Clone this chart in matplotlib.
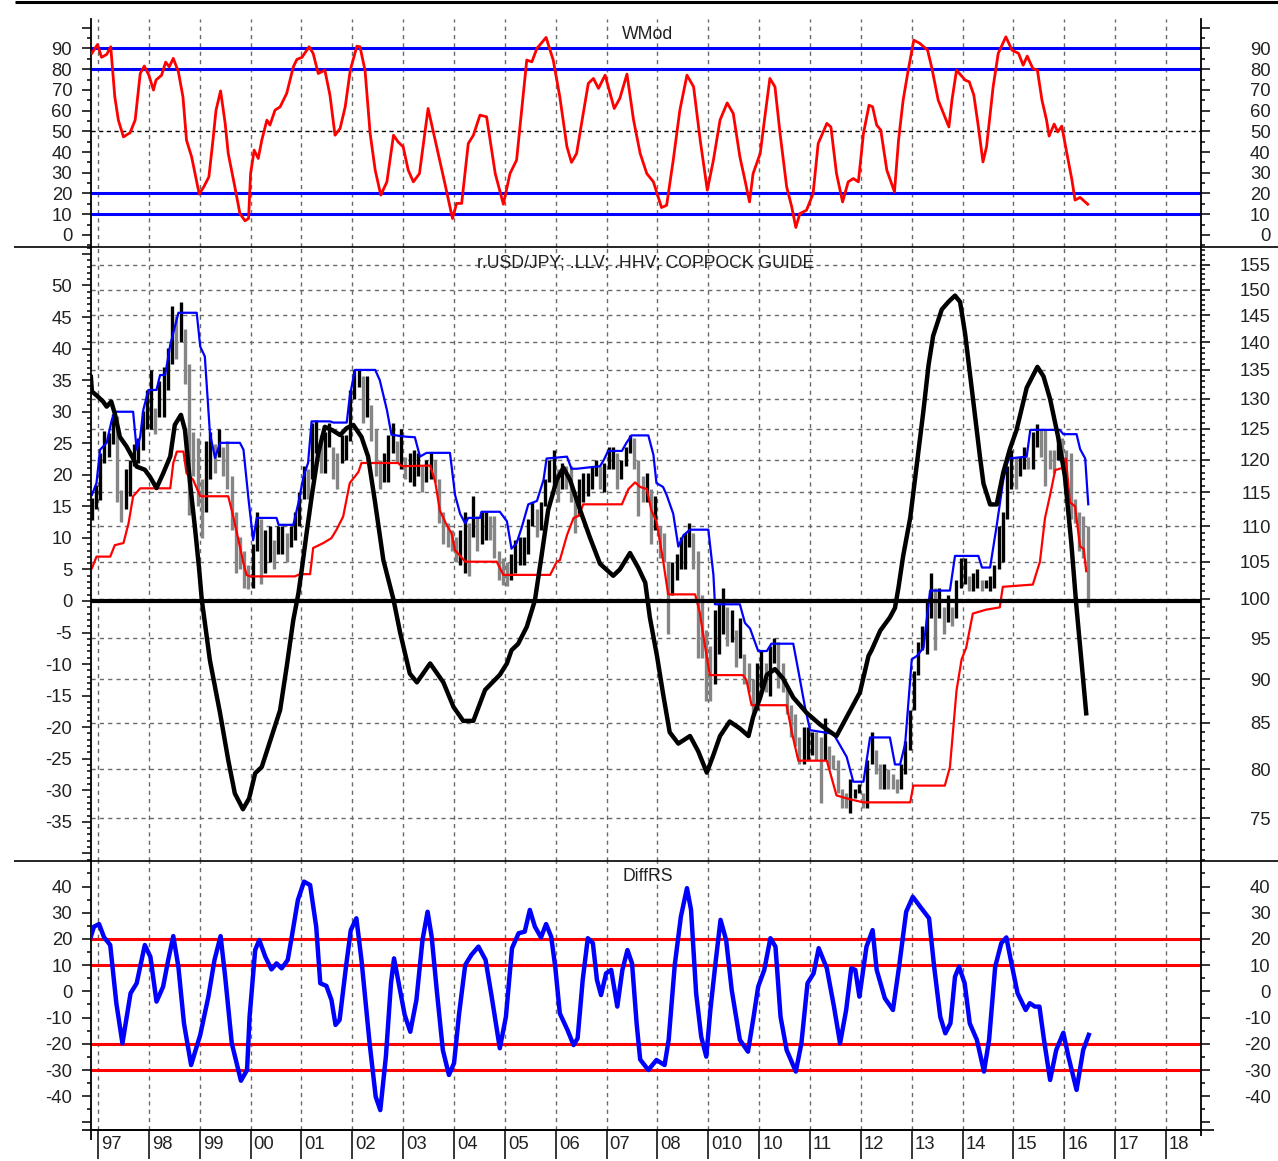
import numpy as np
import pandas as pd
import matplotlib
matplotlib.use("Agg")
import matplotlib.pyplot as plt
from matplotlib.lines import Line2D
from matplotlib.ticker import MultipleLocator, FixedLocator, FuncFormatter, NullFormatter

# ---------------------------------------------------------------- data
# WMod oscillator (top panel): turning points, decimal years / value
wm_t = [1996.88, 1996.99, 1997.07, 1997.17, 1997.25, 1997.33, 1997.40, 1997.50, 1997.63, 1997.73,
        1997.83, 1997.91, 1998.00, 1998.09, 1998.14, 1998.25, 1998.33, 1998.40, 1998.48, 1998.58,
        1998.67, 1998.74, 1998.84, 1998.99, 1999.08, 1999.18, 1999.26, 1999.32, 1999.41, 1999.50,
        1999.56, 1999.69, 1999.79, 1999.89, 1999.96, 2000.00, 2000.07, 2000.15, 2000.22, 2000.32,
        2000.38, 2000.48, 2000.58, 2000.71, 2000.84, 2000.91, 2001.01, 2001.15, 2001.23, 2001.33,
        2001.46, 2001.56, 2001.66, 2001.76, 2001.86, 2001.96, 2002.09, 2002.15, 2002.25, 2002.35,
        2002.45, 2002.56, 2002.68, 2002.81, 2002.90, 2003.00, 2003.10, 2003.20, 2003.32, 2003.49,
        2003.63, 2003.82, 2003.97, 2004.05, 2004.15, 2004.28, 2004.38, 2004.51, 2004.64, 2004.81,
        2004.97, 2005.10, 2005.23, 2005.33, 2005.43, 2005.53, 2005.63, 2005.81, 2005.95, 2006.08,
        2006.22, 2006.31, 2006.41, 2006.54, 2006.64, 2006.74, 2006.84, 2006.97, 2007.15, 2007.26,
        2007.40, 2007.53, 2007.66, 2007.79, 2007.92, 2008.08, 2008.18, 2008.31, 2008.44, 2008.58,
        2008.71, 2008.84, 2008.98, 2009.10, 2009.23, 2009.37, 2009.49, 2009.62, 2009.72, 2009.81,
        2009.88, 2010.02, 2010.12, 2010.21, 2010.31, 2010.41, 2010.54, 2010.64, 2010.72, 2010.80,
        2010.93, 2011.06, 2011.16, 2011.33, 2011.41, 2011.52, 2011.64, 2011.75, 2011.85, 2011.95,
        2012.05, 2012.16, 2012.23, 2012.31, 2012.39, 2012.51, 2012.66, 2012.74, 2012.83, 2012.93,
        2013.04, 2013.16, 2013.31, 2013.39, 2013.52, 2013.73, 2013.79, 2013.88, 2014.05, 2014.13,
        2014.22, 2014.31, 2014.40, 2014.47, 2014.60, 2014.70, 2014.85, 2014.97, 2015.10, 2015.19,
        2015.27, 2015.38, 2015.47, 2015.56, 2015.65, 2015.70, 2015.80, 2015.87, 2015.95, 2016.05,
        2016.15, 2016.21, 2016.31, 2016.46]
wm_v = [87.7, 91.9, 85.7, 87.1, 90.8, 66.6, 55.4, 47.3, 49.3, 55.4,
        77.9, 81.5, 77.1, 69.9, 74.7, 77.1, 83.4, 81.1, 85.2, 78.7,
        66.6, 45.7, 37.7, 19.7, 23.2, 28.0, 45.7, 60.2, 69.5, 53.8,
        39.3, 23.2, 10.3, 6.8, 7.9, 29.6, 40.9, 36.9, 45.7, 55.4,
        53.0, 60.2, 61.8, 68.3, 81.1, 84.7, 85.7, 90.8, 87.6, 77.9,
        79.5, 67.5, 48.1, 51.4, 61.8, 79.5, 91.1, 90.8, 79.5, 49.0,
        31.2, 19.2, 25.6, 48.1, 44.9, 42.5, 31.2, 25.6, 29.6, 61.0,
        45.7, 24.8, 7.9, 15.2, 15.2, 44.1, 48.1, 57.8, 57.0, 29.6,
        14.8, 29.6, 36.1, 60.2, 84.4, 83.5, 90.0, 95.3, 84.4, 66.6,
        42.5, 35.0, 39.3, 58.6, 73.1, 75.5, 70.7, 77.1, 61.0, 65.9,
        77.6, 55.4, 39.3, 29.6, 25.6, 13.2, 14.3, 36.1, 60.2, 77.1,
        71.5, 45.7, 21.6, 36.1, 55.4, 63.7, 58.6, 37.7, 26.4, 15.9,
        29.6, 39.3, 58.6, 75.5, 71.5, 49.0, 23.2, 13.5, 3.6, 10.3,
        11.9, 20.0, 44.1, 53.8, 52.1, 29.6, 15.9, 25.6, 27.2, 25.6,
        49.0, 62.6, 61.8, 53.0, 50.6, 31.2, 20.8, 45.7, 65.0, 79.5,
        94.0, 92.4, 89.2, 81.1, 65.0, 52.1, 65.0, 79.5, 74.7, 73.9,
        67.5, 52.1, 35.2, 42.5, 71.5, 87.6, 95.6, 89.2, 87.6, 81.9,
        86.3, 80.3, 79.5, 65.0, 55.4, 47.7, 53.5, 49.7, 52.5, 39.3,
        26.4, 16.8, 18.1, 14.8]
wm_levels = [90, 80, 20, 10]

# USD/JPY monthly bars, Nov 1996 .. Jun 2016
px_low = [110.9, 112.5,
          113.9, 119.5, 120.5, 122.5, 113.5, 110.6, 112.5, 114.5, 119.0, 119.5, 121.5, 125.0,
          125.0, 124.2, 127.0, 127.0, 131.5, 136.0, 137.0, 140.0, 132.5, 111.6, 117.5, 113.0,
          108.3, 112.0, 117.0, 118.0, 120.5, 117.5, 115.5, 109.5, 103.5, 104.0, 101.5, 101.3,
          101.5, 106.5, 102.0, 103.5, 105.0, 104.0, 106.0, 106.0, 105.0, 107.0, 108.0, 110.0,
          114.0, 114.0, 117.0, 121.0, 118.0, 118.0, 122.0, 117.0, 115.5, 119.5, 120.0, 123.0,
          130.0, 132.0, 126.0, 127.0, 123.0, 117.5, 115.5, 116.5, 116.5, 121.0, 119.5, 118.5,
          117.0, 116.5, 116.0, 117.5, 115.0, 116.5, 117.0, 116.5, 110.5, 107.5, 107.0, 106.5,
          105.0, 104.5, 103.5, 103.0, 108.5, 106.5, 107.5, 108.0, 108.0, 105.5, 102.5, 101.8,
          101.7, 102.5, 103.5, 104.5, 104.5, 106.0, 110.0, 108.5, 109.5, 113.0, 116.5, 115.5,
          113.5, 115.5, 115.5, 113.5, 109.0, 111.5, 113.5, 114.5, 115.5, 117.5, 115.5, 115.0,
          118.5, 118.5, 115.5, 117.0, 119.0, 121.0, 118.5, 111.5, 113.5, 113.5, 107.5, 109.5,
          105.5, 105.0, 95.5, 100.5, 102.5, 104.0, 104.0, 107.0, 104.0, 92.5, 92.5, 87.5,
          87.5, 89.5, 93.0, 95.5, 94.0, 94.5, 91.5, 92.5, 89.5, 88.5, 86.0, 86.5,
          89.0, 88.5, 88.0, 92.0, 89.0, 88.5, 86.0, 83.5, 82.5, 80.5, 80.5, 81.0,
          81.5, 81.0, 76.5, 81.0, 80.0, 80.0, 77.5, 76.0, 76.0, 75.5, 77.0, 77.5,
          76.0, 76.0, 80.5, 79.5, 78.0, 78.0, 78.0, 78.0, 77.5, 78.0, 79.5, 82.0,
          86.5, 90.5, 93.5, 93.0, 97.5, 93.5, 97.5, 95.5, 97.0, 96.5, 97.5, 101.5,
          102.0, 101.0, 101.0, 101.5, 101.0, 101.5, 101.0, 101.5, 104.0, 105.0, 111.0, 115.5,
          115.5, 117.5, 118.5, 118.5, 118.5, 122.0, 120.5, 116.0, 118.5, 118.0, 120.0, 120.0,
          115.5, 111.0, 110.5, 106.5, 105.5, 99.0]
px_high = [114.1, 116.1,
           121.1, 124.6, 124.3, 127.4, 127.1, 115.4, 118.5, 120.0, 122.5, 123.5, 128.0, 131.5,
           135.0, 128.5, 133.0, 135.5, 139.0, 146.8, 144.8, 147.6, 142.5, 136.0, 124.5, 123.5,
           117.0, 123.0, 124.5, 122.5, 125.0, 122.0, 123.0, 117.5, 112.0, 108.5, 106.5, 104.5,
           107.5, 112.0, 111.0, 109.5, 110.0, 108.0, 110.0, 110.0, 109.0, 110.0, 112.0, 115.0,
           119.0, 118.5, 126.0, 126.5, 124.0, 124.5, 126.0, 122.0, 121.0, 124.0, 124.0, 131.5,
           135.0, 135.0, 134.0, 134.0, 129.0, 125.0, 120.0, 121.0, 124.0, 126.0, 123.0, 125.0,
           120.5, 121.0, 121.5, 121.0, 119.0, 120.0, 121.0, 120.0, 117.0, 112.0, 110.5, 109.5,
           108.5, 109.5, 112.0, 110.5, 114.5, 111.5, 112.0, 112.0, 111.5, 111.5, 106.5, 105.5,
           105.0, 106.0, 108.0, 108.5, 108.5, 111.0, 113.5, 112.5, 113.5, 117.0, 120.0, 121.5,
           118.5, 119.5, 119.0, 119.0, 114.5, 117.0, 118.0, 118.0, 119.0, 119.9, 119.0, 119.5,
           122.0, 122.0, 121.0, 120.0, 122.0, 124.0, 123.5, 120.0, 117.5, 118.0, 115.5, 114.5,
           110.0, 109.0, 105.0, 105.0, 106.0, 108.5, 109.0, 110.5, 109.0, 106.5, 100.5, 96.0,
           94.0, 98.5, 99.5, 101.5, 99.0, 98.5, 96.0, 97.5, 93.0, 92.0, 90.0, 92.0,
           93.5, 92.0, 94.0, 95.0, 94.5, 92.0, 89.0, 87.0, 86.0, 83.5, 84.5, 84.5,
           84.0, 84.0, 83.5, 85.5, 82.5, 81.5, 81.0, 78.0, 77.5, 79.0, 78.0, 78.5,
           77.5, 81.0, 84.0, 82.0, 80.5, 80.5, 80.0, 79.5, 79.0, 80.5, 83.0, 86.5,
           91.0, 94.5, 96.5, 100.0, 103.5, 101.5, 101.5, 99.0, 100.5, 99.0, 102.5, 105.5,
           105.5, 103.0, 103.5, 104.0, 102.5, 102.5, 103.0, 104.5, 110.0, 112.0, 119.0, 121.5,
           120.5, 120.5, 122.0, 120.5, 124.5, 125.8, 125.0, 125.0, 121.5, 121.5, 123.8, 123.5,
           121.5, 121.0, 114.0, 112.0, 111.5, 110.0]

# highest-high (blue) and lowest-low (red) envelopes: vertices
hhv_t = [1996.88, 1996.97, 1997.04, 1997.10, 1997.17, 1997.27, 1997.33, 1997.69, 1997.76, 1997.83,
         1997.89, 1997.99, 1998.15, 1998.22, 1998.32, 1998.42, 1998.48, 1998.58, 1998.94, 1999.01,
         1999.10, 1999.20, 1999.30, 1999.40, 1999.79, 1999.86, 1999.96, 2000.05, 2000.12, 2000.51,
         2000.55, 2000.84, 2000.94, 2001.04, 2001.13, 2001.20, 2001.56, 2001.63, 2001.89, 2001.95,
         2002.05, 2002.45, 2002.54, 2002.68, 2002.77, 2003.04, 2003.23, 2003.33, 2003.46, 2003.92,
         2004.02, 2004.12, 2004.22, 2004.28, 2004.51, 2004.54, 2004.90, 2005.04, 2005.13, 2005.23,
         2005.33, 2005.46, 2005.63, 2005.76, 2005.82, 2006.22, 2006.31, 2006.41, 2006.87, 2006.94,
         2007.03, 2007.30, 2007.39, 2007.49, 2007.82, 2007.92, 2007.98, 2008.11, 2008.18, 2008.31,
         2008.41, 2008.51, 2008.64, 2009.00, 2009.10, 2009.13, 2009.62, 2009.72, 2009.82, 2009.98,
         2010.15, 2010.24, 2010.67, 2010.77, 2010.90, 2011.00, 2011.46, 2011.72, 2011.85, 2012.05,
         2012.18, 2012.57, 2012.67, 2012.77, 2012.87, 2013.00, 2013.10, 2013.23, 2013.36, 2013.75,
         2013.85, 2014.31, 2014.38, 2014.54, 2014.67, 2014.80, 2014.90, 2015.26, 2015.33, 2015.91,
         2015.98, 2016.24, 2016.31, 2016.41, 2016.47]
hhv_v = [114.6, 116.4, 121.6, 122.1, 122.7, 126.4, 127.8, 127.8, 121.6, 123.7,
         128.1, 131.5, 131.5, 134.1, 134.1, 139.5, 141.7, 145.5, 145.5, 139.2,
         137.4, 124.3, 120.3, 122.7, 122.7, 121.6, 113.9, 108.0, 111.2, 111.2,
         110.2, 110.2, 113.4, 117.4, 119.5, 126.2, 126.2, 126.0, 126.0, 130.4,
         135.0, 135.0, 133.2, 128.1, 124.0, 123.7, 123.6, 120.5, 121.1, 121.1,
         114.6, 111.8, 110.4, 111.2, 111.2, 112.1, 112.1, 110.7, 106.8, 107.6,
         109.8, 113.2, 113.7, 116.9, 120.2, 120.5, 118.6, 118.6, 119.0, 119.9,
         121.4, 121.4, 122.7, 123.9, 123.9, 120.8, 116.4, 115.8, 114.6, 111.8,
         107.1, 108.7, 109.5, 109.5, 103.2, 99.3, 99.3, 96.9, 96.2, 93.4,
         93.4, 94.3, 94.3, 91.0, 86.8, 84.2, 83.8, 81.3, 78.7, 78.7,
         83.4, 83.4, 80.5, 80.5, 82.7, 92.4, 92.8, 93.8, 101.1, 101.1,
         105.8, 105.8, 104.2, 104.2, 110.1, 116.9, 120.2, 120.5, 124.8, 124.8,
         124.1, 124.1, 121.7, 120.2, 113.2]
llv_t = [1996.88, 1996.97, 1997.24, 1997.33, 1997.50, 1997.60, 1997.69, 1997.83, 1998.42, 1998.48,
         1998.55, 1998.68, 1998.74, 1998.87, 1999.01, 1999.56, 1999.66, 1999.86, 1999.92, 1999.99,
         2000.87, 2000.97, 2001.17, 2001.23, 2001.43, 2001.59, 2001.69, 2001.82, 2001.95, 2002.12,
         2002.18, 2002.90, 2002.97, 2003.53, 2003.63, 2003.72, 2003.86, 2003.95, 2004.02, 2004.12,
         2004.22, 2004.84, 2004.97, 2005.89, 2006.02, 2006.08, 2006.22, 2006.35, 2006.45, 2006.54,
         2007.30, 2007.43, 2007.56, 2007.66, 2007.79, 2007.88, 2007.98, 2008.11, 2008.21, 2008.74,
         2008.83, 2008.93, 2009.03, 2009.68, 2009.75, 2009.85, 2010.54, 2010.64, 2010.77, 2011.33,
         2011.52, 2011.79, 2012.05, 2012.97, 2013.03, 2013.65, 2013.75, 2013.88, 2013.98, 2014.07,
         2014.20, 2014.46, 2014.73, 2014.79, 2015.38, 2015.52, 2015.62, 2015.72, 2015.82, 2015.95,
         2016.03, 2016.11, 2016.21, 2016.31, 2016.38, 2016.43]
llv_v = [104.1, 105.7, 105.7, 107.3, 107.6, 110.4, 114.4, 115.6, 115.6, 119.5,
         121.3, 121.3, 117.9, 116.9, 114.4, 114.4, 111.4, 104.8, 103.2, 103.0,
         103.0, 103.3, 103.3, 106.9, 107.6, 108.3, 109.5, 111.4, 116.4, 118.1,
         119.5, 119.5, 119.0, 119.1, 116.6, 112.3, 110.1, 109.0, 106.6, 105.8,
         105.0, 105.0, 103.2, 103.2, 105.0, 105.2, 108.7, 111.2, 111.5, 113.2,
         113.2, 115.5, 116.5, 115.8, 115.5, 112.3, 110.7, 105.2, 100.6, 100.6,
         98.3, 94.2, 90.5, 90.5, 89.9, 87.0, 87.0, 84.0, 80.9, 80.9,
         77.3, 76.9, 76.6, 76.6, 78.3, 78.3, 80.2, 88.7, 92.4, 93.8,
         98.1, 98.6, 98.9, 101.6, 101.9, 105.0, 111.2, 114.6, 118.4, 118.7,
         120.2, 113.5, 112.9, 107.1, 106.8, 103.7]

# Coppock guide (left scale of the middle panel)
cop_t = [1996.86, 1996.88, 1996.97, 1997.10, 1997.17, 1997.26, 1997.33, 1997.43, 1997.56, 1997.69,
         1997.76, 1997.92, 1998.02, 1998.15, 1998.28, 1998.42, 1998.51, 1998.63, 1998.71, 1998.81,
         1998.91, 1998.99, 1999.04, 1999.20, 1999.40, 1999.56, 1999.69, 1999.85, 1999.97, 2000.09,
         2000.22, 2000.38, 2000.58, 2000.71, 2000.84, 2000.94, 2001.01, 2001.10, 2001.20, 2001.33,
         2001.46, 2001.60, 2001.76, 2001.89, 2002.02, 2002.18, 2002.31, 2002.45, 2002.61, 2002.81,
         2002.94, 2003.13, 2003.27, 2003.53, 2003.79, 2003.99, 2004.18, 2004.38, 2004.61, 2004.90,
         2005.04, 2005.13, 2005.26, 2005.43, 2005.59, 2005.72, 2005.85, 2006.02, 2006.15, 2006.28,
         2006.48, 2006.67, 2006.87, 2007.13, 2007.26, 2007.46, 2007.62, 2007.76, 2007.85, 2007.99,
         2008.11, 2008.24, 2008.41, 2008.64, 2008.80, 2008.97, 2009.10, 2009.23, 2009.42, 2009.62,
         2009.79, 2009.88, 2010.02, 2010.15, 2010.31, 2010.47, 2010.67, 2010.93, 2011.20, 2011.46,
         2011.52, 2011.72, 2011.98, 2012.15, 2012.21, 2012.38, 2012.57, 2012.67, 2012.74, 2012.83,
         2012.97, 2013.10, 2013.23, 2013.33, 2013.42, 2013.59, 2013.72, 2013.85, 2013.95, 2014.05,
         2014.15, 2014.24, 2014.34, 2014.41, 2014.54, 2014.67, 2014.80, 2014.93, 2015.06, 2015.26,
         2015.47, 2015.59, 2015.72, 2015.88, 2016.01, 2016.14, 2016.23, 2016.32, 2016.43]
cop_v = [35.5, 33.2, 32.6, 31.6, 30.8, 31.6, 29.7, 26.0, 24.5, 22.6,
         21.3, 20.8, 19.7, 17.9, 20.2, 22.9, 27.9, 29.5, 27.1, 18.7,
         11.3, 4.9, 0.2, -9.4, -17.8, -25.2, -30.5, -33.0, -31.3, -27.3,
         -26.3, -22.3, -17.3, -10.4, -3.0, 1.2, 5.2, 10.7, 16.5, 23.4,
         27.6, 27.1, 26.3, 27.4, 27.9, 26.0, 22.9, 15.5, 6.5, 0.2,
         -5.0, -11.5, -12.9, -9.9, -12.9, -16.8, -19.0, -19.0, -14.1, -11.7,
         -9.9, -7.8, -6.8, -4.1, 0.1, 7.1, 14.4, 19.2, 21.1, 19.2,
         14.4, 10.1, 5.9, 4.0, 5.0, 7.6, 5.3, 2.9, -2.6, -8.7,
         -14.7, -20.8, -22.6, -21.4, -23.8, -27.2, -24.4, -21.4, -19.1, -20.2,
         -21.4, -18.4, -15.3, -11.7, -10.8, -12.3, -15.3, -17.7, -19.6, -21.1,
         -21.4, -18.4, -14.5, -8.7, -7.8, -4.7, -2.6, -1.1, 2.2, 7.1,
         13.2, 21.7, 30.2, 37.4, 42.0, 46.2, 47.4, 48.4, 47.4, 42.3,
         35.6, 29.5, 22.9, 18.6, 15.3, 15.3, 20.4, 24.1, 27.1, 33.8,
         37.1, 35.6, 32.0, 25.9, 19.8, 8.9, -0.2, -8.1, -17.8]

# DiffRS (bottom panel)
dif_t = [1996.85, 1996.92, 1997.02, 1997.12, 1997.24, 1997.36, 1997.48, 1997.64, 1997.76, 1997.92,
         1998.03, 1998.15, 1998.28, 1998.38, 1998.48, 1998.58, 1998.69, 1998.83, 1999.01, 1999.17,
         1999.29, 1999.41, 1999.50, 1999.63, 1999.81, 1999.93, 1999.98, 2000.09, 2000.17, 2000.29,
         2000.41, 2000.51, 2000.61, 2000.73, 2000.81, 2000.93, 2001.05, 2001.17, 2001.29, 2001.37,
         2001.49, 2001.59, 2001.67, 2001.75, 2001.88, 2001.97, 2002.08, 2002.18, 2002.34, 2002.46,
         2002.55, 2002.66, 2002.76, 2002.82, 2002.90, 2003.03, 2003.14, 2003.26, 2003.38, 2003.48,
         2003.56, 2003.66, 2003.78, 2003.90, 2004.00, 2004.10, 2004.22, 2004.34, 2004.48, 2004.62,
         2004.74, 2004.90, 2005.02, 2005.14, 2005.27, 2005.39, 2005.49, 2005.59, 2005.71, 2005.81,
         2005.91, 2005.99, 2006.08, 2006.23, 2006.35, 2006.43, 2006.53, 2006.63, 2006.73, 2006.81,
         2006.89, 2006.99, 2007.09, 2007.21, 2007.31, 2007.41, 2007.50, 2007.59, 2007.66, 2007.82,
         2007.98, 2008.14, 2008.22, 2008.34, 2008.46, 2008.58, 2008.66, 2008.76, 2008.86, 2008.96,
         2009.04, 2009.14, 2009.24, 2009.35, 2009.46, 2009.62, 2009.78, 2009.89, 2009.98, 2010.10,
         2010.22, 2010.32, 2010.42, 2010.54, 2010.72, 2010.83, 2010.95, 2011.07, 2011.17, 2011.33,
         2011.47, 2011.59, 2011.71, 2011.81, 2011.89, 2011.97, 2012.11, 2012.23, 2012.31, 2012.47,
         2012.63, 2012.75, 2012.89, 2013.02, 2013.19, 2013.34, 2013.44, 2013.56, 2013.66, 2013.76,
         2013.85, 2013.93, 2014.04, 2014.14, 2014.28, 2014.42, 2014.52, 2014.64, 2014.76, 2014.86,
         2014.96, 2015.08, 2015.24, 2015.32, 2015.42, 2015.51, 2015.60, 2015.72, 2015.84, 2015.98,
         2016.08, 2016.24, 2016.37, 2016.48]
dif_v = [20.3, 24.7, 25.7, 20.6, 17.7, -4.5, -19.8, -0.7, 3.1, 17.7,
         13.2, -3.9, 1.8, 12.0, 21.1, 9.4, -12.2, -28.1, -16.6, -2.0,
         12.0, 21.1, 5.6, -19.8, -34.1, -30.0, -9.7, 15.8, 19.6, 13.2,
         8.4, 10.7, 8.8, 12.0, 20.9, 34.9, 41.9, 40.6, 24.7, 3.1,
         2.1, -3.3, -12.8, -10.9, 10.1, 23.4, 27.9, 12.0, -19.8, -40.2,
         -45.3, -24.9, 3.1, 12.6, 4.4, -9.0, -15.4, -3.3, 19.6, 30.4,
         20.9, 0.5, -22.4, -31.9, -27.4, -8.4, 10.1, 13.9, 17.1, 12.0,
         -2.0, -21.7, -9.7, 16.5, 22.2, 22.8, 31.1, 24.7, 20.6, 25.7,
         20.9, 9.4, -8.4, -14.7, -20.5, -17.9, 4.4, 20.3, 18.4, 4.4,
         -1.4, 6.9, 8.2, -5.8, 8.2, 15.8, 10.7, -12.2, -26.0, -30.0,
         -26.2, -28.1, -18.5, 10.1, 28.5, 39.4, 31.1, -0.7, -17.3, -24.9,
         -7.1, 10.7, 27.3, 19.6, 0.5, -18.5, -23.0, -9.7, 1.8, 8.2,
         20.3, 17.1, -9.7, -22.4, -30.6, -19.8, 3.1, 6.9, 16.5, 8.8,
         -5.8, -19.8, -7.1, 8.8, 8.2, -2.0, 17.1, 23.4, 8.2, -2.6,
         -7.1, 9.4, 30.4, 36.1, 31.7, 27.9, 9.4, -9.7, -16.0, -12.2,
         5.6, 9.4, 3.1, -12.2, -18.5, -30.6, -18.5, 9.4, 18.4, 20.6,
         10.7, -0.7, -7.1, -4.5, -5.8, -5.8, -18.5, -33.8, -22.4, -15.8,
         -24.9, -37.6, -22.4, -16.6]
dif_levels = [20, 10, -20, -30]

year_ticks = list(range(1997, 2019))
year_labels = ["97", "98", "99", "00", "01", "02", "03", "04", "05", "06", "07",
               "08", "010", "10", "11", "12", "13", "14", "15", "16", "17", "18"]
price_ticks = list(range(75, 160, 5))

assert len(wm_t) == len(wm_v) and len(cop_t) == len(cop_v)
assert len(hhv_t) == len(hhv_v) and len(llv_t) == len(llv_v)
assert len(dif_t) == len(dif_v) and len(px_low) == len(px_high)

# ---------------------------------------------------------------- style
plt.rcParams['font.family'] = ['Liberation Sans', 'DejaVu Sans']
TXT = '#222222'
GRID = '#6a6a6a'
BLUE = '#0000ff'
RED = '#ff0000'
FS = 13.3

W, H = 1278, 1161
fig = plt.figure(figsize=(W / 100, H / 100), dpi=100)


def box(x0, y0, x1, y1):
    return [x0 / W, 1 - y1 / H, (x1 - x0) / W, (y1 - y0) / H]


XL, XR = 91, 1200.5
XMIN, XMAX = 1996.862, 2018.677

ax_w = fig.add_axes(box(XL, 19, XR, 246.5))
ax_p = fig.add_axes(box(XL, 246.5, XR, 860.5))
ax_d = fig.add_axes(box(XL, 860.5, XR, 1130))
ax_c = ax_p.twinx()
ax_w2 = ax_w.twinx()
ax_d2 = ax_d.twinx()


def yticks(ax, side, major, minor, lo, hi, log=False):
    if not log:
        ax.yaxis.set_major_locator(MultipleLocator(major))
        ax.yaxis.set_minor_locator(MultipleLocator(minor))
    ax.yaxis.set_major_formatter(
        FuncFormatter(lambda v, p: str(int(round(v))) if lo - 1e-6 <= v <= hi + 1e-6 else ''))
    ax.yaxis.set_minor_formatter(NullFormatter())
    if side == 'left':
        ax.yaxis.tick_left()
    else:
        ax.yaxis.tick_right()
    ax.tick_params(axis='y', which='both', direction='out', width=1.1, color='black',
                   labelsize=FS, labelcolor=TXT,
                   pad=7 if side == 'left' else 44)
    ax.tick_params(axis='y', which='major', length=6.5)
    ax.tick_params(axis='y', which='minor', length=3.2)
    if side == 'right':
        for t in ax.yaxis.get_major_ticks():
            t.label2.set_horizontalalignment('right')
    for s in ('top', 'bottom', 'left', 'right'):
        ax.spines[s].set_visible(s == side)
        ax.spines[s].set_linewidth(1.3)


for ax in (ax_w, ax_p, ax_d):
    ax.set_xlim(XMIN, XMAX)
    ax.set_xticks(year_ticks)
    ax.set_xticklabels([])
    ax.grid(axis='x', color=GRID, ls=(0, (3, 3)), lw=1.0)
    ax.set_axisbelow(True)
ax_w.tick_params(axis='x', length=0)
ax_p.tick_params(axis='x', length=0)
ax_d.tick_params(axis='x', direction='out', length=21, width=1.1, color='black')

# ---------------------------------------------------------------- WMod panel
ax_w.set_ylim(-5.6, 104.2)
ax_w2.set_ylim(-5.6, 104.2)
yticks(ax_w, 'left', 10, 5, 0, 90)
yticks(ax_w2, 'right', 10, 5, 0, 90)
for lv in wm_levels:
    ax_w.axhline(lv, color=BLUE, lw=2.2, zorder=2)
ax_w.axhline(50, color='black', lw=1.0, ls=(0, (3, 2.5)), zorder=2)
ax_w.plot(wm_t, wm_v, color=RED, lw=2.0, zorder=3)
ax_w.annotate('WMod', xy=(0.5, 1), xycoords='axes fraction', xytext=(1.5, -11.5),
              textcoords='offset points', ha='center', va='center', fontsize=12.7, color=TXT)

# ---------------------------------------------------------------- price / Coppock panel
ax_p.set_yscale('log')
ax_p.set_ylim(70.98, 158.7)
ax_p.yaxis.set_major_locator(FixedLocator(price_ticks))
ax_p.yaxis.set_minor_locator(FixedLocator([v for v in range(71, 159) if v % 5]))
yticks(ax_p, 'right', None, None, 75, 155, log=True)
ax_p.grid(axis='y', which='major', color=GRID, ls=(0, (3, 3)), lw=1.0)

months = pd.period_range('1996-11', '2016-06', freq='M')
bar_t = months.year + (months.month - 0.5) / 12
lows = np.array(px_low)
highs = np.array(px_high)
mids = (lows + highs) / 2
rising = np.r_[True, np.diff(mids) >= 0]
bar_colors = np.where(rising, 'black', '#858585')
ax_p.vlines(bar_t, lows, highs, colors=bar_colors, lw=2.4, zorder=2)
ax_p.plot(llv_t, llv_v, color=RED, lw=1.6, zorder=3)
ax_p.plot(hhv_t, hhv_v, color=BLUE, lw=1.6, zorder=3)

ax_c.set_ylim(-41.13, 56.18)
yticks(ax_c, 'left', 5, 1, -35, 50)
ax_c.axhline(0, color='black', lw=3.0, zorder=2)
ax_c.plot(cop_t, cop_v, color='black', lw=3.2, zorder=3, solid_joinstyle='round')
ax_c.annotate('r.USD/JPY; .LLV; .HHV; COPPOCK GUIDE', xy=(0.5, 1), xycoords='axes fraction',
              xytext=(0, -11.9), textcoords='offset points', ha='center', va='center',
              fontsize=12.7, color=TXT)

# ---------------------------------------------------------------- DiffRS panel
ax_d.set_ylim(-52.9, 49.96)
ax_d2.set_ylim(-52.9, 49.96)
yticks(ax_d, 'left', 10, 5, -40, 40)
yticks(ax_d2, 'right', 10, 5, -40, 40)
ax_d.spines['bottom'].set_visible(True)
ax_d.spines['bottom'].set_linewidth(1.3)
for lv in dif_levels:
    ax_d.axhline(lv, color=RED, lw=2.2, zorder=2)
ax_d.plot(dif_t, dif_v, color=BLUE, lw=3.2, zorder=3, solid_joinstyle='round')
ax_d.annotate('DiffRS', xy=(0.5, 1), xycoords='axes fraction', xytext=(1.5, -11.2),
              textcoords='offset points', ha='center', va='center', fontsize=12.7, color=TXT)

for yr, lab in zip(year_ticks, year_labels):
    ax_d.annotate(lab, xy=(yr, 0), xycoords=('data', 'axes fraction'), xytext=(2.2, -10.5),
                  textcoords='offset points', ha='left', va='center', fontsize=FS,
                  color=TXT, annotation_clip=False)


# ---------------------------------------------------------------- frame lines
def fig_line(xs, ys, lw):
    fig.add_artist(Line2D([x / W for x in xs], [1 - y / H for y in ys],
                          transform=fig.transFigure, color='black', lw=lw,
                          solid_capstyle='butt'))


fig_line([15, W], [1.5, 1.5], 2.2)
fig_line([14, W], [246.5, 246.5], 1.2)
fig_line([14, W], [860.5, 860.5], 1.2)
fig_line([82, 1214], [1130, 1130], 1.2)
fig_line([XL, XL], [1130, 1140], 1.3)
fig_line([XR, XR], [1130, 1136], 1.3)

fig.savefig('out.png', dpi=100)
